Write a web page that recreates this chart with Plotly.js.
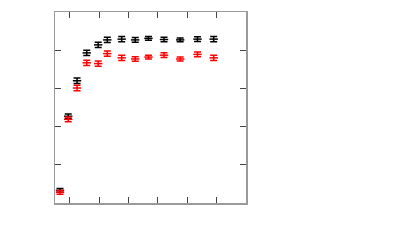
<!DOCTYPE html>
<html>
<head>
<meta charset="utf-8">
<script src="https://cdn.plot.ly/plotly-3.0.1.min.js"></script>
<style>html,body{margin:0;padding:0;background:#fff;}#chart{width:400px;height:240px;}</style>
</head>
<body>
<div id="chart"></div>
<script>
const xValues = [0.67, 0.95, 1.25, 1.58, 1.97, 2.28, 2.77, 3.23, 3.68, 4.21, 4.76, 5.35, 5.9];
const blackValues = [0.33, 2.27, 3.20, 3.93, 4.14, 4.27, 4.29, 4.27, 4.31, 4.28, 4.27, 4.29, 4.29];
const blackErrors = [0.05, 0.06, 0.07, 0.07, 0.07, 0.07, 0.07, 0.06, 0.05, 0.06, 0.05, 0.06, 0.07];
const redValues = [0.28, 2.19, 3.01, 3.67, 3.65, 3.91, 3.80, 3.77, 3.82, 3.87, 3.77, 3.89, 3.80];
const redErrors = [0.05, 0.06, 0.07, 0.07, 0.07, 0.07, 0.07, 0.06, 0.05, 0.06, 0.05, 0.06, 0.07];
const xTicks = [1, 2, 3, 4, 5, 6];
const yTicks = [1, 2, 3, 4];

function series(y, err, color) {
  return {
    x: xValues, y: y, type: 'scatter', mode: 'markers',
    marker: {color: color, size: 6, symbol: 'line-ew', line: {color: color, width: 1.5}},
    error_y: {type: 'data', array: err, visible: true, color: color, thickness: 1.5, width: 3.5},
    showlegend: false, hoverinfo: 'skip'
  };
}
const axisCommon = {
  showgrid: false, zeroline: false, showline: true, mirror: 'ticks',
  linecolor: '#9a9a9a', linewidth: 1.5, ticks: 'inside', ticklen: 6,
  tickcolor: '#444', tickwidth: 1, showticklabels: false, tickmode: 'array'
};
const layout = {
  width: 400, height: 240,
  margin: {l: 55, r: 154, t: 12, b: 37},
  paper_bgcolor: '#fff', plot_bgcolor: '#fff',
  xaxis: Object.assign({}, axisCommon, {range: [0.5, 7], tickvals: xTicks}),
  yaxis: Object.assign({}, axisCommon, {range: [0, 5], tickvals: yTicks})
};
Plotly.newPlot('chart', [series(blackValues, blackErrors, '#000'), series(redValues, redErrors, '#ff0000')], layout, {staticPlot: true});
</script>
</body>
</html>
